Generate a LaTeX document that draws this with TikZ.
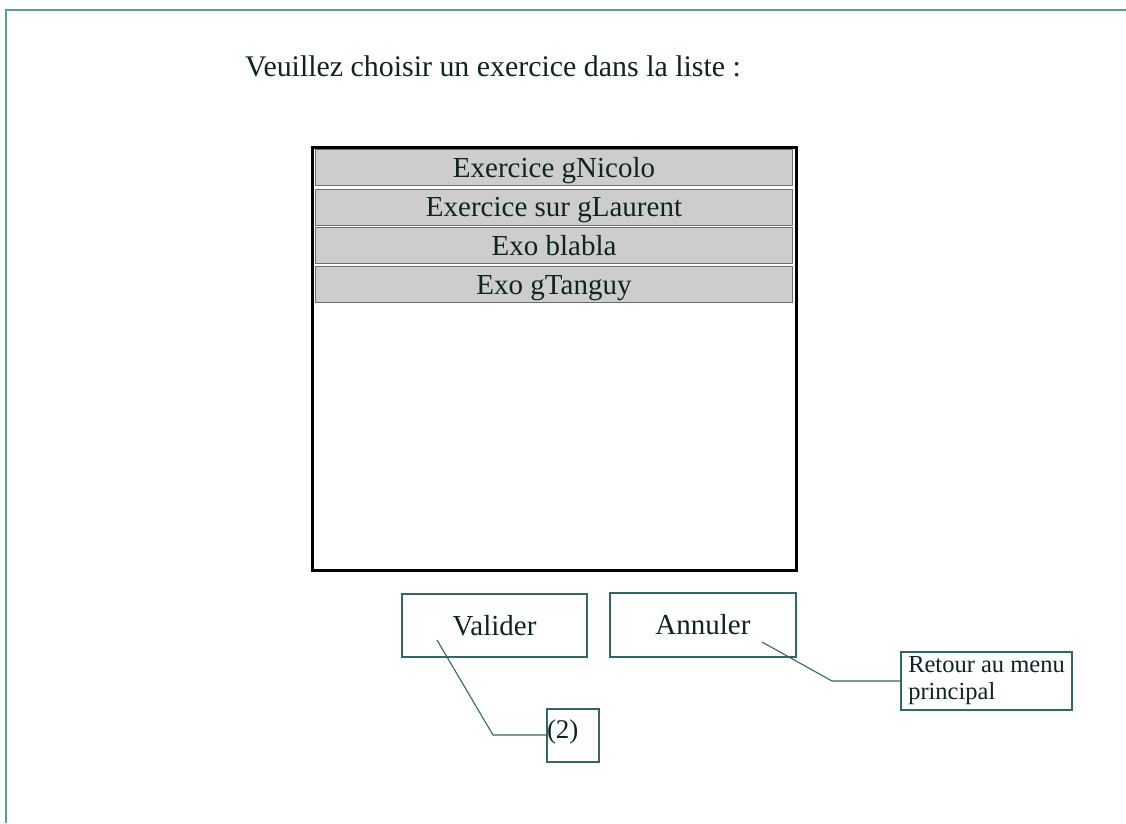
\documentclass[tikz,border=0pt]{standalone}
\usepackage{fontspec}
\setmainfont{Liberation Serif}
\definecolor{frameline}{RGB}{95,155,155}
\definecolor{boxline}{RGB}{55,100,100}
\definecolor{rowline}{RGB}{110,110,110}
\definecolor{rowfill}{RGB}{205,205,205}
\definecolor{ink}{RGB}{15,35,35}
\begin{document}
\begin{tikzpicture}[x=1pt,y=-1pt,
  big/.style={font=\fontsize{29}{34}\selectfont},
  small/.style={font=\fontsize{24.5}{27}\selectfont},
  listrow/.style={draw=rowline,line width=0.8pt,fill=rowfill,text=ink,big,
    minimum width=477pt,minimum height=36pt,inner sep=0pt,
    text height=23pt,text depth=4pt},
  button/.style={draw=boxline,line width=1.1pt,text=ink,big,inner sep=0pt},
  note/.style={draw=boxline,line width=1.1pt,text=ink,small},
  leader/.style={draw=boxline,line width=1.1pt}]
\useasboundingbox (0,0) rectangle (1126,823);
\fill[white] (0,0) rectangle (1126,823);

% page frame
\draw[frameline,line width=2pt] (6,823) -- (6,10) -- (1126,10);

% prompt
\node[font=\fontsize{29.9}{34}\selectfont,text=ink,anchor=base west,inner sep=0pt]
  (prompt) at (245,76) {Veuillez choisir un exercice dans la liste :};

% list box with its entries
\node[draw=black,line width=3pt,minimum width=484pt,minimum height=423pt,
  inner sep=0pt] (list) at (554,358.5) {};
\node[listrow] (r1) at (554,167.5) {Exercice gNicolo};
\node[listrow] (r2) at (554,207) {Exercice sur gLaurent};
\node[listrow] (r3) at (554,245.5) {Exo blabla};
\node[listrow] (r4) at (554,284.5) {Exo gTanguy};

% buttons
\node[button,minimum width=185pt,minimum height=63pt] (valider) at (494.5,625.5) {Valider};
\node[button,minimum width=186pt,minimum height=64pt] (annuler) at (703,625) {Annuler};

% annotations
\node[note,font=\fontsize{27}{30}\selectfont,minimum width=52pt,minimum height=53pt,
  inner sep=0pt,text width=52pt,align=left,text height=20pt,text depth=15pt]
  (n2) at (573,735.5) {(2)};
\node[note,minimum width=171pt,minimum height=58pt,inner xsep=6pt,inner ysep=0pt,
  align=left] (retour) at (986.5,681)
  {Retour au menu\\principal};

% leader lines
\coordinate (vs) at (437,640);
\coordinate (vk) at (493,735);
\coordinate (as) at (762,642);
\coordinate (ak) at (832,681);
\draw[leader] (vs) -- (vk) -- (n2.west |- vk);
\draw[leader] (as) -- (ak) -- (retour.west |- ak);
\end{tikzpicture}
\end{document}
